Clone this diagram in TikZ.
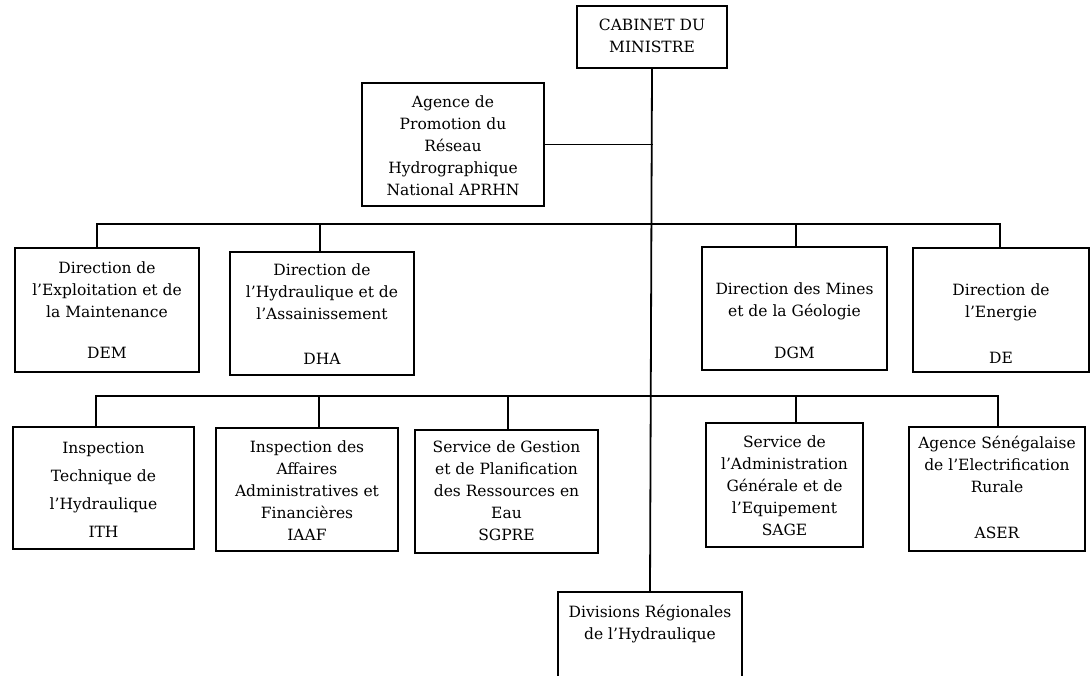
\documentclass[tikz,border=0pt]{standalone}
\usepackage{fontspec}
\setmainfont{DejaVu Serif}
\newcommand{\fl}[1]{\rule{0pt}{#1pt}}
\begin{document}
\begin{tikzpicture}[x=1pt,y=-1pt,
  box/.style={draw, line width=2pt, rectangle, inner sep=0pt, align=center,
    font=\fontsize{15.5}{22}\selectfont,
    execute at end node=\strut},
  link/.style={line width=1.8pt, line cap=rect}]
\useasboundingbox (0,0) rectangle (1091,675);
\fill[white] (0,0) rectangle (1091,675);
\clip (0,0) rectangle (1091,675);

% boxes
\node[box, minimum width=150pt, minimum height=62pt] (cab) at (652,37)
  {\fl{15.8}CABINET DU\\MINISTRE};
\node[box, minimum width=182pt, minimum height=123pt] (aprhn) at (453,144.5)
  {\fl{20.2}Agence de\\Promotion du\\Réseau\\Hydrographique\\National APRHN};

\node[box, minimum width=184pt, minimum height=124pt] (dem) at (107,310)
  {\fl{18.8}Direction de\\l'Exploitation et de\\la Maintenance\\[19pt]DEM};
\node[box, minimum width=184pt, minimum height=123pt] (dha) at (322,313.5)
  {\fl{19.8}Direction de\\l'Hydraulique et de\\l'Assainissement\\[23pt]DHA};
\node[box, minimum width=185pt, minimum height=123pt] (dgm) at (794.5,308.5)
  {\fl{42.8}Direction des Mines\\et de la Géologie\\[20pt]DGM};
\node[box, minimum width=176pt, minimum height=124pt] (de) at (1001,310)
  {\fl{45.8}Direction de\\l'Energie\\[24pt]DE};

\node[box, minimum width=181pt, minimum height=122pt] (ith) at (103.5,488)
  {\fl{21.8}Inspection\\[6pt]Technique de\\[6pt]l'Hydraulique\\[6pt]ITH};
\node[box, minimum width=182pt, minimum height=123pt] (iaaf) at (307,489.5)
  {\fl{20.8}Inspection des\\Affaires\\Administratives et\\Financières\\IAAF};
\node[box, minimum width=183pt, minimum height=123pt] (sgpre) at (506.5,491.5)
  {\fl{16.8}Service de Gestion\\et de Planification\\des Ressources en\\Eau\\SGPRE};
\node[box, minimum width=157pt, minimum height=124pt] (sage) at (784.5,485)
  {\fl{19.8}Service de\\l'Administration\\Générale et de\\l'Equipement\\SAGE};
\node[box, minimum width=176pt, minimum height=124pt] (aser) at (997,489)
  {\fl{15.8}Agence Sénégalaise\\de l'Electrification\\Rurale\\[24pt]ASER};

\node[box, minimum width=184pt, minimum height=98pt] (div) at (650,641)
  {\fl{16}Divisions Régionales\\de l'Hydraulique\rule[-41.4pt]{0pt}{41.4pt}};

% junction points
\coordinate (t1) at (97,224);
\coordinate (t2) at (320,224);
\coordinate (t3) at (796,224);
\coordinate (t4) at (1000,224);
\coordinate (s1) at (96,396);
\coordinate (s2) at (319,396);
\coordinate (s3) at (508,396);
\coordinate (s4) at (796,396);
\coordinate (s5) at (998,396);

% connectors
\draw[link] (cab.south) -- (div.north);
\draw[link] (aprhn.east) -- (aprhn.east -| cab.south);

\draw[link] (t1) -- (t4);
\draw[link] (t1) -- (t1 |- dem.north);
\draw[link] (t2) -- (t2 |- dha.north);
\draw[link] (t3) -- (t3 |- dgm.north);
\draw[link] (t4) -- (t4 |- de.north);

\draw[link] (s1) -- (s5);
\draw[link] (s1) -- (s1 |- ith.north);
\draw[link] (s2) -- (s2 |- iaaf.north);
\draw[link] (s3) -- (s3 |- sgpre.north);
\draw[link] (s4) -- (s4 |- sage.north);
\draw[link] (s5) -- (s5 |- aser.north);
\end{tikzpicture}
\end{document}
